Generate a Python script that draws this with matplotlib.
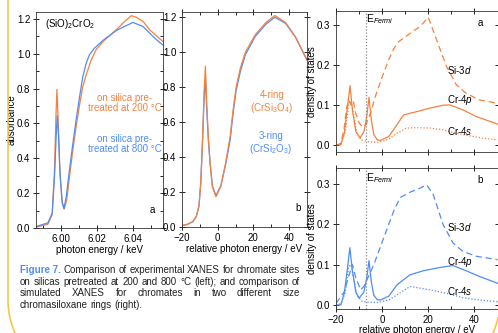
import numpy as np
import matplotlib
matplotlib.use("Agg")
from matplotlib import pyplot as plt
from matplotlib.lines import Line2D
from matplotlib.ticker import MultipleLocator, FormatStrFormatter

plt.rcParams['font.family'] = ['Liberation Sans', 'DejaVu Sans']
plt.rcParams['mathtext.fontset'] = 'custom'
plt.rcParams['mathtext.rm'] = 'Liberation Sans'
plt.rcParams['mathtext.it'] = 'Liberation Sans:italic'
plt.rcParams['font.size'] = 7

ORANGE = '#f4813f'
BLUE = '#4f8df5'

# experimental XANES (keV, absorbance)
exp_800_x = [5.9861, 5.9926, 5.9950, 5.9963, 5.9972, 5.9978, 5.9985, 5.9994, 6.0006,
             6.0015, 6.0028, 6.0046, 6.0065, 6.0083, 6.0102, 6.0120, 6.0139, 6.0157,
             6.0185, 6.0232, 6.0306, 6.0398, 6.0454, 6.0491, 6.0528, 6.0574]
exp_800_y = [0.009, 0.029, 0.086, 0.30, 0.53, 0.645, 0.53, 0.30, 0.143,
             0.111, 0.18, 0.335, 0.488, 0.622, 0.755, 0.87, 0.947, 0.995,
             1.033, 1.077, 1.134, 1.180, 1.157, 1.119, 1.081, 1.043]
exp_200_x = [5.9861, 5.9926, 5.9950, 5.9963, 5.9970, 5.9976, 5.9983, 5.9992, 6.0004,
             6.0017, 6.0031, 6.0046, 6.0065, 6.0083, 6.0102, 6.0120, 6.0139, 6.0167,
             6.0194, 6.0232, 6.0306, 6.0352, 6.0389, 6.0417, 6.0454, 6.0491, 6.0528, 6.0574]
exp_200_y = [0.005, 0.022, 0.077, 0.337, 0.62, 0.795, 0.62, 0.337, 0.155,
             0.109, 0.162, 0.296, 0.45, 0.584, 0.708, 0.813, 0.88, 0.966,
             1.024, 1.071, 1.138, 1.186, 1.219, 1.21, 1.186, 1.138, 1.104, 1.062]

# simulated XANES (relative eV)
sim_x = [-20, -17, -14, -12, -10.5, -9.5, -8.5, -7.6, -6.9, -6.2, -5.2, -4.3, -3.0,
         -1.0, 1.7, 4.5, 7.0, 8.5, 10.3, 12.7, 15.5, 21, 27, 32, 38, 43.6, 50]
sim4_y = [0.008, 0.015, 0.03, 0.06, 0.12, 0.25, 0.5, 0.78, 0.92, 0.72, 0.5, 0.37, 0.23,
          0.173, 0.23, 0.37, 0.52, 0.66, 0.80, 0.91, 1.0, 1.10, 1.17, 1.21, 1.17, 1.087, 0.955]
sim3_y = [0.008, 0.015, 0.03, 0.06, 0.12, 0.25, 0.49, 0.74, 0.85, 0.68, 0.49, 0.37, 0.235,
          0.18, 0.235, 0.36, 0.50, 0.64, 0.78, 0.89, 0.985, 1.09, 1.16, 1.20, 1.165, 1.085, 0.955]

# density of states, 4-ring (a)
a_p_x = [-20, -17.9, -16.4, -15, -13.9, -12.9, -11.4, -9.6, -7.9, -6.7, -5.7, -4.7, -3.6,
         -2.1, -0.7, 2.9, 6.4, 9.3, 15, 20.7, 26.4, 29.3, 35, 40.7, 50]
a_p_y = [0.0, 0.0, 0.03, 0.096, 0.148, 0.0875, 0.033, 0.017, 0.033, 0.07, 0.119, 0.0625, 0.025,
         0.0125, 0.011, 0.021, 0.05, 0.075, 0.083, 0.092, 0.099, 0.1, 0.0875, 0.071, 0.052]
a_d_x = [-20, -18, -16.5, -15.5, -14.5, -13.5, -12.5, -11.5, -10, -8.5, -7, -5, -3, 0,
         3, 5, 7.1, 12.1, 16.4, 20, 23.6, 27.9, 32.2, 36.4, 42.1, 50]
a_d_y = [0.0, 0.002, 0.04, 0.09, 0.112, 0.10, 0.11, 0.08, 0.055, 0.045, 0.05, 0.08, 0.12, 0.17,
         0.215, 0.24, 0.258, 0.279, 0.296, 0.319, 0.2625, 0.196, 0.15, 0.129, 0.1125, 0.104]
a_s_x = [-20, -18, -16, -14.5, -13.5, -12.5, -11, -9, -6, -2, 1, 3, 6.4, 10.7, 15, 20.7,
         26.4, 32, 38, 43.6, 50]
a_s_y = [0.0, 0.003, 0.03, 0.1, 0.11, 0.08, 0.03, 0.012, 0.008, 0.006, 0.01, 0.015, 0.029,
         0.042, 0.043, 0.042, 0.0375, 0.029, 0.0225, 0.0167, 0.0125]

# density of states, 3-ring (b)
b_p_x = [-20, -17.9, -16.4, -15, -14.0, -12.9, -11.4, -10, -7.9, -6.7, -5.7, -4.7, -3.6,
         -2.1, -0.7, 2.9, 6.4, 12.1, 17.9, 25, 30.7, 36.4, 42.1, 50]
b_p_y = [0.0, 0.0, 0.03, 0.092, 0.142, 0.085, 0.032, 0.017, 0.032, 0.066, 0.11, 0.058, 0.024,
         0.013, 0.0125, 0.022, 0.05, 0.075, 0.085, 0.093, 0.098, 0.085, 0.071, 0.054]
b_d_x = [-20, -16.4, -14.3, -12.9, -11.4, -9.3, -7.9, -3.6, 0.7, 5, 7.9, 12.1, 16.4, 19.3,
         22.1, 26.4, 30.7, 35, 40.7, 50]
b_d_y = [0.004, 0.033, 0.075, 0.1, 0.067, 0.0375, 0.046, 0.1, 0.167, 0.233, 0.267, 0.28,
         0.29, 0.298, 0.275, 0.2, 0.154, 0.133, 0.121, 0.1125]
b_s_x = [-20, -18, -16, -14.5, -13.5, -12.5, -11, -9, -6, -2, 2.9, 6.4, 12.1, 20.7, 27.9,
         35, 42.1, 50]
b_s_y = [0.0, 0.003, 0.03, 0.095, 0.1, 0.07, 0.025, 0.01, 0.007, 0.006, 0.0125, 0.025,
         0.046, 0.0375, 0.029, 0.018, 0.0125, 0.008]

e_fermi = -7.1

W, H = 498, 333
fig = plt.figure(figsize=(W / 100, H / 100), dpi=100)


def px_axes(l, t, r, b):
    return fig.add_axes([l / W, 1 - b / H, (r - l) / W, (b - t) / H])


def style(ax, top=True):
    ax.tick_params(which='major', direction='inout', length=5, width=0.6, labelsize=7,
                   pad=1.5, top=top, right=True)
    ax.tick_params(which='minor', direction='in', length=2.5, width=0.6, top=top, right=True)
    ax.tick_params(axis='both', which='both', labeltop=False, labelright=False)
    for s in ax.spines.values():
        s.set_linewidth(0.6)
        s.set_color('#333333')


# panel a: experimental
ax1 = px_axes(36, 12, 163, 228)
ax1.plot(exp_200_x, exp_200_y, color=ORANGE, lw=0.9)
ax1.plot(exp_800_x, exp_800_y, color=BLUE, lw=0.9)
ax1.set_xlim(5.986, 6.0565)
ax1.set_ylim(0, 1.24)
ax1.xaxis.set_major_locator(MultipleLocator(0.02))
ax1.xaxis.set_minor_locator(MultipleLocator(0.01))
ax1.xaxis.set_major_formatter(FormatStrFormatter('%.2f'))
ax1.yaxis.set_major_locator(MultipleLocator(0.2))
ax1.yaxis.set_minor_locator(MultipleLocator(0.1))
ax1.yaxis.set_major_formatter(FormatStrFormatter('%.1f'))
style(ax1, top=False)
ax1.set_xlabel('photon energy / keV', fontsize=7, labelpad=1)
ax1.set_ylabel('absorbance', fontsize=7, labelpad=0.5)
ax1.text(0.07, 0.944, r'(SiO)$_\mathregular{2}$CrO$_\mathregular{2}$', transform=ax1.transAxes,
         va='center', fontsize=7)
ax1.text(0.70, 0.579, 'on silica pre-\ntreated at 200 °C', transform=ax1.transAxes,
         ha='center', va='center', color=ORANGE, fontsize=7, linespacing=1.1)
ax1.text(0.70, 0.389, 'on silica pre-\ntreated at 800 °C', transform=ax1.transAxes,
         ha='center', va='center', color=BLUE, fontsize=7, linespacing=1.1)
ax1.text(0.919, 0.083, 'a', transform=ax1.transAxes, ha='center', va='center', fontsize=7)

# panel b: simulated
ax2 = px_axes(182, 12, 307, 227)
ax2.plot(sim_x, sim3_y, color=BLUE, lw=0.9)
ax2.plot(sim_x, sim4_y, color=ORANGE, lw=0.9)
ax2.set_xlim(-20, 50)
ax2.set_ylim(0, 1.23)
ax2.xaxis.set_major_locator(MultipleLocator(20))
ax2.xaxis.set_minor_locator(MultipleLocator(10))
ax2.yaxis.set_major_locator(MultipleLocator(0.2))
ax2.yaxis.set_major_formatter(FormatStrFormatter('%.1f'))
style(ax2)
ax2.set_xlabel('relative photon energy / eV', fontsize=7, labelpad=1)
ax2.text(0.718, 0.577, '4-ring\n(CrSi$_\\mathregular{3}$O$_\\mathregular{4}$)',
         transform=ax2.transAxes, ha='center', va='center', color=ORANGE, fontsize=7,
         linespacing=1.1)
ax2.text(0.71, 0.39, '3-ring\n(CrSi$_\\mathregular{2}$O$_\\mathregular{3}$)',
         transform=ax2.transAxes, ha='center', va='center', color=BLUE, fontsize=7,
         linespacing=1.1)
ax2.text(0.925, 0.088, 'b', transform=ax2.transAxes, ha='center', va='center', fontsize=7)


def dos_panel(t, b, col, px, py, dx, dy, sx, sy, letter, ylim, lab_y):
    ax = px_axes(336, t, 497.5, b)
    ax.plot(px, py, color=col, lw=0.9)
    ax.plot(dx, dy, color=col, lw=0.9, ls=(0, (5, 3)))
    ax.plot(sx, sy, color=col, lw=0.9, ls=(0, (1, 1.5)))
    ax.axvline(e_fermi, color='#888888', lw=0.9, ls=(0, (1, 1.5)))
    ax.set_xlim(-20, 50)
    ax.set_ylim(*ylim)
    ax.xaxis.set_major_locator(MultipleLocator(20))
    ax.xaxis.set_minor_locator(MultipleLocator(10))
    ax.yaxis.set_major_locator(MultipleLocator(0.1))
    ax.yaxis.set_major_formatter(FormatStrFormatter('%.1f'))
    style(ax)
    ax.set_ylabel('density of states', fontsize=7, labelpad=0)
    ax.text(0.188, lab_y[0], r'E$_{\mathit{Fermi}}$', transform=ax.transAxes, va='top',
            fontsize=7.5)
    ax.text(0.895, lab_y[1], letter, transform=ax.transAxes, ha='center', va='center', fontsize=7)
    ax.text(0.69, lab_y[2], r'Si-3$d$', transform=ax.transAxes, va='center', fontsize=7)
    ax.text(0.69, lab_y[3], r'Cr-4$p$', transform=ax.transAxes, va='center', fontsize=7)
    ax.text(0.69, lab_y[4], r'Cr-4$s$', transform=ax.transAxes, va='center', fontsize=7)
    return ax


ax3 = dos_panel(11, 152, ORANGE, a_p_x, a_p_y, a_d_x, a_d_y, a_s_x, a_s_y, 'a',
                (-0.018, 0.335), (0.99, 0.913, 0.58, 0.369, 0.149))
ax3.tick_params(labelbottom=False)
ax4 = dos_panel(168, 309, BLUE, b_p_x, b_p_y, b_d_x, b_d_y, b_s_x, b_s_y, 'b',
                (-0.01, 0.34), (0.98, 0.915, 0.584, 0.333, 0.128))
ax4.set_xlabel('relative photon energy / eV', fontsize=7, labelpad=0)

# caption, justified lines
cap_lines = [
    [('Figure 7.', True)] + [(w, False) for w in
                             'Comparison of experimental XANES for chromate sites'.split()],
    [(w, False) for w in 'on silicas pretreated at 200 and 800 °C (left); and comparison of'.split()],
    [(w, False) for w in 'simulated XANES for chromates in two different size'.split()],
    [(w, False) for w in 'chromasiloxane rings (right).'.split()],
]
cap_y = [270, 282, 293.5, 305]
cap_fs = 7.0
x_left, x_right = 20, 300
renderer = fig.canvas.get_renderer()
for i, (words, yy) in enumerate(zip(cap_lines, cap_y)):
    texts = []
    for w, bold in words:
        t = fig.text(0, 1 - yy / H, w, fontsize=cap_fs, va='center',
                     color=BLUE if bold else '#222222', fontweight='bold' if bold else 'normal')
        texts.append(t)
    widths = [t.get_window_extent(renderer).width for t in texts]
    t1 = fig.text(0, 0, 'a b', fontsize=cap_fs)
    t2 = fig.text(0, 0, 'ab', fontsize=cap_fs)
    sp = t1.get_window_extent(renderer).width - t2.get_window_extent(renderer).width
    t1.remove()
    t2.remove()
    if i < len(cap_lines) - 1:
        gap = (x_right - x_left - sum(widths)) / (len(words) - 1)
    else:
        gap = sp
    x = x_left
    for t, w in zip(texts, widths):
        t.set_x(x / W)
        x += w + gap

# yellow frame: left edge with rounded corner, and the bottom right corner
frame_col = '#f5c84a'
th = np.radians(np.linspace(0, 24, 20))
lx = np.concatenate([[8, 8], 89 - 81 * np.cos(th)])
ly = np.concatenate([[0, 300], 300 + 81 * np.sin(th)])
fig.add_artist(Line2D(lx / W, 1 - ly / H, color=frame_col, lw=1.2, transform=fig.transFigure))
ph = np.radians(np.linspace(12.8, 24, 10))
rx = 419 + 81 * np.cos(ph)
ry = 300 + 81 * np.sin(ph)
fig.add_artist(Line2D(rx / W, 1 - ry / H, color=frame_col, lw=1.2, transform=fig.transFigure))

fig.savefig('out.png', dpi=100)
